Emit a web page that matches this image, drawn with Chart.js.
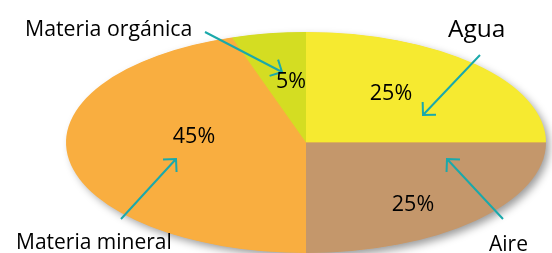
<!DOCTYPE html>
<html>
<head>
<meta charset="utf-8">
<script src="https://cdn.jsdelivr.net/npm/chart.js@4.4.0/dist/chart.umd.min.js"></script>
<style>
  html, body { margin: 0; padding: 0; background: #fff; overflow: hidden; }
  #wrap { width: 552px; height: 253px; position: relative; }
</style>
</head>
<body>
<div id="wrap"><canvas id="soil-chart" width="552" height="253"></canvas></div>
<script>
// Composición del suelo
const categories = ['Agua', 'Aire', 'Materia mineral', 'Materia orgánica'];
const percentages = [25, 25, 45, 5];
const percentLabels = ['25%', '25%', '45%', '5%'];
const sliceColors = ['#f6ea30', '#c4976b', '#f9ae40', '#d4dd22'];

// where each text goes: name label [x, baseline, size], arrow (from -> tip), percentage text
const annotations = [
    { name: [448, 37, 24.5], arrow: [480, 55, 423, 115], pct: [391, 94] },
    { name: [489, 251, 21], arrow: [503, 219, 447, 159], pct: [413, 205] },
    { name: [16, 249, 21], arrow: [121, 219, 176, 159], pct: [194, 137] },
    { name: [25, 36, 21.3], arrow: [205, 32, 282, 72], pct: [291, 82] }
];

const ELLIPSE_RX = 240;
const FONT = '"Open Sans", "Noto Sans", sans-serif';

// stretch the round pie into an ellipse
const ellipsePlugin = {
    id: 'ellipse',
    beforeDatasetsDraw(chart) {
        const arc = chart.getDatasetMeta(0).data[0];
        const ctx = chart.ctx;
        const sx = ELLIPSE_RX / arc.outerRadius;
        ctx.save();
        ctx.translate(arc.x, arc.y);
        ctx.scale(sx, 1);
        ctx.translate(-arc.x, -arc.y);
        // soft shadow under the pie
        ctx.save();
        ctx.shadowColor = 'rgba(0,0,0,0.4)';
        ctx.shadowBlur = 8;
        ctx.shadowOffsetX = 4;
        ctx.shadowOffsetY = 4;
        ctx.fillStyle = '#f9ae40';
        ctx.beginPath();
        ctx.arc(arc.x, arc.y, arc.outerRadius - 0.5, 0, Math.PI * 2);
        ctx.fill();
        ctx.restore();
    },
    afterDatasetsDraw(chart) {
        chart.ctx.restore();
    },
    afterDraw(chart) {
        const ctx = chart.ctx;
        ctx.save();
        ctx.textBaseline = 'alphabetic';
        annotations.forEach((a, i) => {
            // arrow
            const [x1, y1, x2, y2] = a.arrow;
            const ang = Math.atan2(y2 - y1, x2 - x1);
            const head = 13;
            ctx.strokeStyle = '#1aa9ab';
            ctx.lineWidth = 2;
            ctx.lineCap = 'butt';
            ctx.beginPath();
            ctx.moveTo(x1, y1);
            ctx.lineTo(x2, y2);
            ctx.moveTo(x2 - head * Math.cos(ang - Math.PI / 4), y2 - head * Math.sin(ang - Math.PI / 4));
            ctx.lineTo(x2, y2);
            ctx.lineTo(x2 - head * Math.cos(ang + Math.PI / 4), y2 - head * Math.sin(ang + Math.PI / 4));
            ctx.stroke();

            // category name
            ctx.fillStyle = '#000';
            ctx.textAlign = 'left';
            ctx.font = a.name[2] + 'px ' + FONT;
            ctx.fillText(categories[i], a.name[0], a.name[1]);

            // percentage
            ctx.textAlign = 'center';
            ctx.textBaseline = 'middle';
            ctx.font = '21.5px ' + FONT;
            ctx.fillText(percentLabels[i], a.pct[0], a.pct[1]);
            ctx.textBaseline = 'alphabetic';
        });
        ctx.restore();
    }
};

const ctx = document.getElementById('soil-chart').getContext('2d');
new Chart(ctx, {
    type: 'pie',
    data: {
        labels: categories,
        datasets: [{
            data: percentages,
            backgroundColor: sliceColors,
            borderWidth: 0,
            hoverOffset: 0
        }]
    },
    options: {
        responsive: false,
        animation: false,
        events: [],
        layout: { padding: { left: 60, top: 32, right: 0, bottom: 0 } },
        plugins: {
            legend: { display: false },
            tooltip: { enabled: false }
        }
    },
    plugins: [ellipsePlugin]
});
</script>
</body>
</html>
